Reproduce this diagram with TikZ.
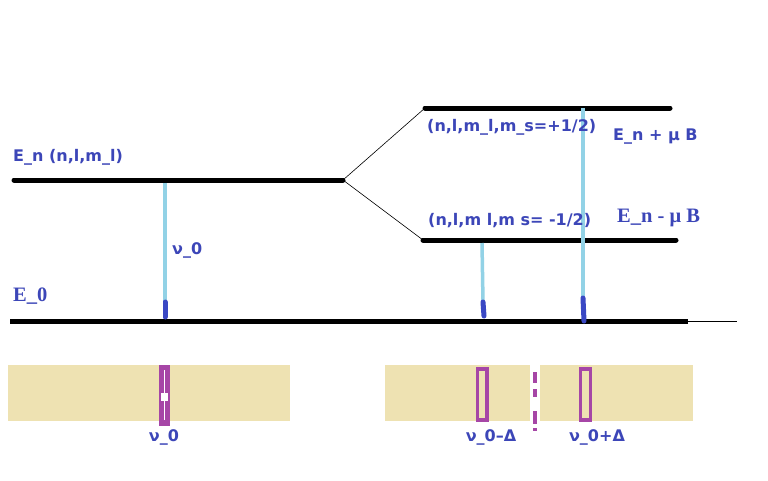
\documentclass[tikz,border=0pt]{standalone}
\usepackage{fontspec}
\setmainfont{DejaVu Sans}
\newfontfamily\serifb{Liberation Serif}
\definecolor{lblue}{HTML}{92D2E6}
\definecolor{dblue}{HTML}{3A48C4}
\definecolor{tblue}{HTML}{3C46B8}
\definecolor{beige}{HTML}{EEE2B2}
\definecolor{purp}{HTML}{A646A6}
\begin{document}
\begin{tikzpicture}[x=1pt,y=-1pt,
  level/.style={line width=5pt,line cap=round,black},
  thin/.style={line width=0.6pt,black},
  photon/.style={line width=3.5pt,lblue},
  foot/.style={line width=5pt,dblue,line cap=round},
  lbl/.style={text=tblue,font=\bfseries\fontsize{16}{18}\selectfont,inner sep=0pt},
  slbl/.style={text=tblue,font=\serifb\bfseries\fontsize{20.5}{23}\selectfont,inner sep=0pt},
  band/.style={fill=beige,draw=none}
]
\useasboundingbox (0,0) rectangle (768,480);
\fill[white] (0,0) rectangle (768,480);
% levels
\coordinate (enL) at (14,180); \coordinate (enR) at (343,180);
\coordinate (upL) at (425,108); \coordinate (upR) at (670,108);
\coordinate (loL) at (423,240); \coordinate (loR) at (676,240);
\coordinate (gL) at (10,321); \coordinate (gR) at (688,321); \coordinate (gE) at (737,321);
\draw[level] (enL) -- (enR);
\draw[level] (upL) -- (upR);
\draw[level] (loL) -- (loR);
\draw[level,line cap=butt] (gL) -- (gR);
\draw[thin] (gR) -- (gE);
\draw[thin] (enR) -- (upL);
\draw[thin] (enR) -- (loL);
% transitions
\coordinate (a1) at (165,183); \coordinate (a2) at (165,302); \coordinate (a3) at (165,317);
\draw[photon] (a1) -- (a2);
\draw[foot] (a2) -- (a3);
\coordinate (b1) at (482,243); \coordinate (b2) at (483,302); \coordinate (b3) at (484,316);
\draw[photon] (b1) -- (b2);
\draw[foot] (b2) -- (b3);
\coordinate (c1) at (583,108); \coordinate (c2) at (583,298); \coordinate (c3) at (584,321);
\draw[photon] (c1) -- (c2);
\draw[foot] (c2) -- (c3);
% labels
\node[lbl,anchor=west] (tEn) at (13,157) {E\_n (n,l,m\_l)};
\node[lbl,anchor=west] (tnu) at (172,250) {ν\_0};
\node[slbl,anchor=west] (tE0) at (13,296) {E\_0};
\node[lbl,anchor=west] (tup) at (427,127) {(n,l,m\_l,m\_s=+1/2)};
\node[lbl,anchor=west] (tEp) at (613,137) {E\_n + μ B};
\node[lbl,anchor=west] (tlo) at (428,221) {(n,l,m l,m s= -1/2)};
\node[slbl,anchor=west] (tEm) at (617,218) {E\_n - μ B};
% spectra
\path[band] (8,365) rectangle (290,421);
\path[band] (385,365) rectangle (530,421);
\path[band] (540,365) rectangle (693,421);
\fill[purp] (159,365) rectangle (170,426);
\draw[white,line width=0.6pt] (164.5,370) -- (164.5,420);
\fill[white] (161,393) rectangle (168,401);
\draw[purp,line width=3.5pt] (477.5,369) rectangle (487,420);
\draw[purp,line width=3.5pt] (580.5,369) rectangle (590.5,420);
\draw[purp,line width=4pt,dash pattern=on 11pt off 6pt on 8pt off 14pt on 13pt off 4pt on 3pt off 20pt] (535,372) -- (535,431);
\node[lbl] (s0) at (164,437) {ν\_0};
\node[lbl] (s1) at (491,437) {ν\_0–Δ};
\node[lbl] (s2) at (597,437) {ν\_0+Δ};
\end{tikzpicture}
\end{document}
